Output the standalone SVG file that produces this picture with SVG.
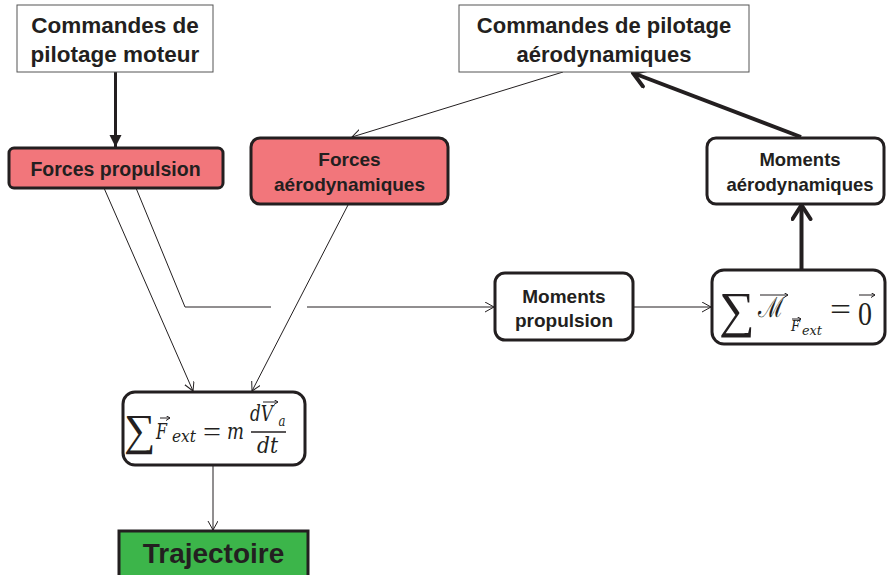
<svg xmlns="http://www.w3.org/2000/svg" width="887" height="575" viewBox="0 0 887 575">
<defs>
<style>
.lbl{font-family:"Liberation Sans",Arial,sans-serif;font-weight:bold;fill:#231f20;text-anchor:middle}
.it{font-family:"DejaVu Serif","Liberation Serif",serif;font-style:italic;fill:#231f20}
.up{font-family:"Liberation Serif","DejaVu Serif",serif;fill:#231f20}
.cmd{fill:#fff;stroke:#555;stroke-width:1}
.node{stroke:#231f20;stroke-width:3}
.thin{fill:none;stroke:#231f20;stroke-width:1}
.bold3{fill:none;stroke:#231f20;stroke-width:3}
.thick{fill:none;stroke:#231f20;stroke-width:4}
.vec{fill:none;stroke:#231f20;stroke-width:1}
</style>
<marker id="open" markerWidth="12" markerHeight="12" refX="9" refY="5" orient="auto" markerUnits="userSpaceOnUse">
<path d="M0,0 L9,5 L0,10" fill="none" stroke="#231f20" stroke-width="1"/>
</marker>
<marker id="openThick" markerWidth="26" markerHeight="26" refX="16" refY="11" orient="auto" markerUnits="userSpaceOnUse">
<path d="M2,2 L16,11 L2,20" fill="none" stroke="#231f20" stroke-width="4" stroke-linejoin="round" stroke-linecap="round"/>
</marker>
<marker id="filled" markerWidth="14" markerHeight="14" refX="12" refY="6" orient="auto" markerUnits="userSpaceOnUse">
<path d="M0,0 L12,6 L0,12 Z" fill="#231f20"/>
</marker>
<marker id="vh" markerWidth="6" markerHeight="6" refX="4" refY="2.5" orient="auto" markerUnits="userSpaceOnUse">
<path d="M0,0 L4,2.5 L0,5" fill="none" stroke="#231f20" stroke-width="1"/>
</marker>
</defs>
<rect width="887" height="575" fill="#fff"/>

<g id="connectors">
<line class="bold3" x1="115.5" y1="72" x2="115.5" y2="147" marker-end="url(#filled)"/>
<line class="thin" x1="563" y1="72" x2="352" y2="137" marker-end="url(#open)"/>
<line class="thick" x1="801" y1="137" x2="633" y2="73" marker-end="url(#openThick)"/>
<line class="thick" x1="801.5" y1="269" x2="801.5" y2="205" marker-end="url(#openThick)"/>
<line class="thin" x1="104" y1="188" x2="193" y2="391" marker-end="url(#open)"/>
<polyline class="thin" points="136,188 185,307 271,307"/>
<line class="thin" x1="307" y1="307" x2="494" y2="307" marker-end="url(#open)"/>
<line class="thin" x1="348" y1="205" x2="252" y2="391" marker-end="url(#open)"/>
<line class="thin" x1="633" y1="307" x2="711" y2="307" marker-end="url(#open)"/>
<line class="thin" x1="213" y1="466" x2="213" y2="530" marker-end="url(#open)"/>
</g>

<g id="cmd-moteur">
<rect class="cmd" x="17" y="5" width="196" height="67"/>
<text class="lbl" x="115" y="33" font-size="22.5">Commandes de</text>
<text class="lbl" x="115" y="62" font-size="22.5">pilotage moteur</text>
</g>

<g id="cmd-aero">
<rect class="cmd" x="459" y="5" width="290" height="67"/>
<text class="lbl" x="604" y="33" font-size="22">Commandes de pilotage</text>
<text class="lbl" x="604" y="62" font-size="22">aérodynamiques</text>
</g>

<g id="forces-propulsion">
<rect class="node" x="9" y="148" width="214" height="40" rx="5" fill="#f2767b"/>
<text class="lbl" x="115.5" y="176" font-size="19.5">Forces propulsion</text>
</g>

<g id="forces-aero">
<rect class="node" x="251" y="138" width="197" height="66" rx="9" fill="#f2767b"/>
<text class="lbl" x="349.5" y="166" font-size="19">Forces</text>
<text class="lbl" x="349.5" y="191" font-size="19">aérodynamiques</text>
</g>

<g id="moments-aero">
<rect class="node" x="707" y="138" width="177" height="66" rx="9" fill="#fff"/>
<text class="lbl" x="800" y="166" font-size="18.5">Moments</text>
<text class="lbl" x="800" y="191" font-size="18.5">aérodynamiques</text>
</g>

<g id="moments-propulsion">
<rect class="node" x="495" y="273" width="138" height="67" rx="10" fill="#fff"/>
<text class="lbl" x="564" y="303" font-size="19">Moments</text>
<text class="lbl" x="564" y="327" font-size="19">propulsion</text>
</g>

<g id="somme-moments">
<rect class="node" x="712" y="270" width="173" height="74" rx="12" fill="#fff"/>
<text class="up" x="719" y="327" font-size="50">∑</text>
<text class="up" x="758" y="317" font-size="28" textLength="26" lengthAdjust="spacingAndGlyphs" font-family="DejaVu Serif,DejaVu Sans,serif">ℳ</text>
<line class="vec" x1="760" y1="295" x2="788" y2="295" marker-end="url(#vh)"/>
<text class="it" x="791" y="331" font-size="14" textLength="9" lengthAdjust="spacingAndGlyphs">F</text>
<line class="vec" x1="792" y1="319" x2="801" y2="319" marker-end="url(#vh)"/>
<text class="it" x="802" y="335" font-size="13" textLength="20" lengthAdjust="spacingAndGlyphs">ext</text>
<text class="up" x="830" y="320" font-size="32" textLength="21" lengthAdjust="spacingAndGlyphs">=</text>
<text class="up" x="858" y="325" font-size="34" textLength="14" lengthAdjust="spacingAndGlyphs">0</text>
<line class="vec" x1="859" y1="295" x2="875" y2="295" marker-end="url(#vh)"/>
</g>

<g id="somme-forces">
<rect class="node" x="123" y="392" width="182" height="73" rx="12" fill="#fff"/>
<text class="up" x="124" y="445" font-size="44">∑</text>
<text class="it" x="156" y="439" font-size="22" textLength="11" lengthAdjust="spacingAndGlyphs">F</text>
<line class="vec" x1="160" y1="418" x2="170" y2="418" marker-end="url(#vh)"/>
<text class="it" x="172" y="442" font-size="16" textLength="24" lengthAdjust="spacingAndGlyphs">ext</text>
<text class="up" x="203" y="441" font-size="28" textLength="18" lengthAdjust="spacingAndGlyphs">=</text>
<text class="it" x="227" y="439" font-size="22" textLength="17" lengthAdjust="spacingAndGlyphs">m</text>
<text class="it" x="250" y="421" font-size="22" textLength="23" lengthAdjust="spacingAndGlyphs">dV</text>
<line class="vec" x1="263" y1="402" x2="278" y2="402" marker-end="url(#vh)"/>
<text class="it" x="278.5" y="426" font-size="14" textLength="7" lengthAdjust="spacingAndGlyphs">a</text>
<line x1="251" y1="432" x2="286" y2="432" stroke="#231f20" stroke-width="1.5"/>
<text class="it" x="257" y="453" font-size="22" textLength="21" lengthAdjust="spacingAndGlyphs">dt</text>
</g>

<g id="trajectoire">
<rect class="node" x="119" y="531" width="189" height="50" fill="#3cb54a"/>
<text class="lbl" x="213.5" y="563" font-size="28">Trajectoire</text>
</g>
</svg>
